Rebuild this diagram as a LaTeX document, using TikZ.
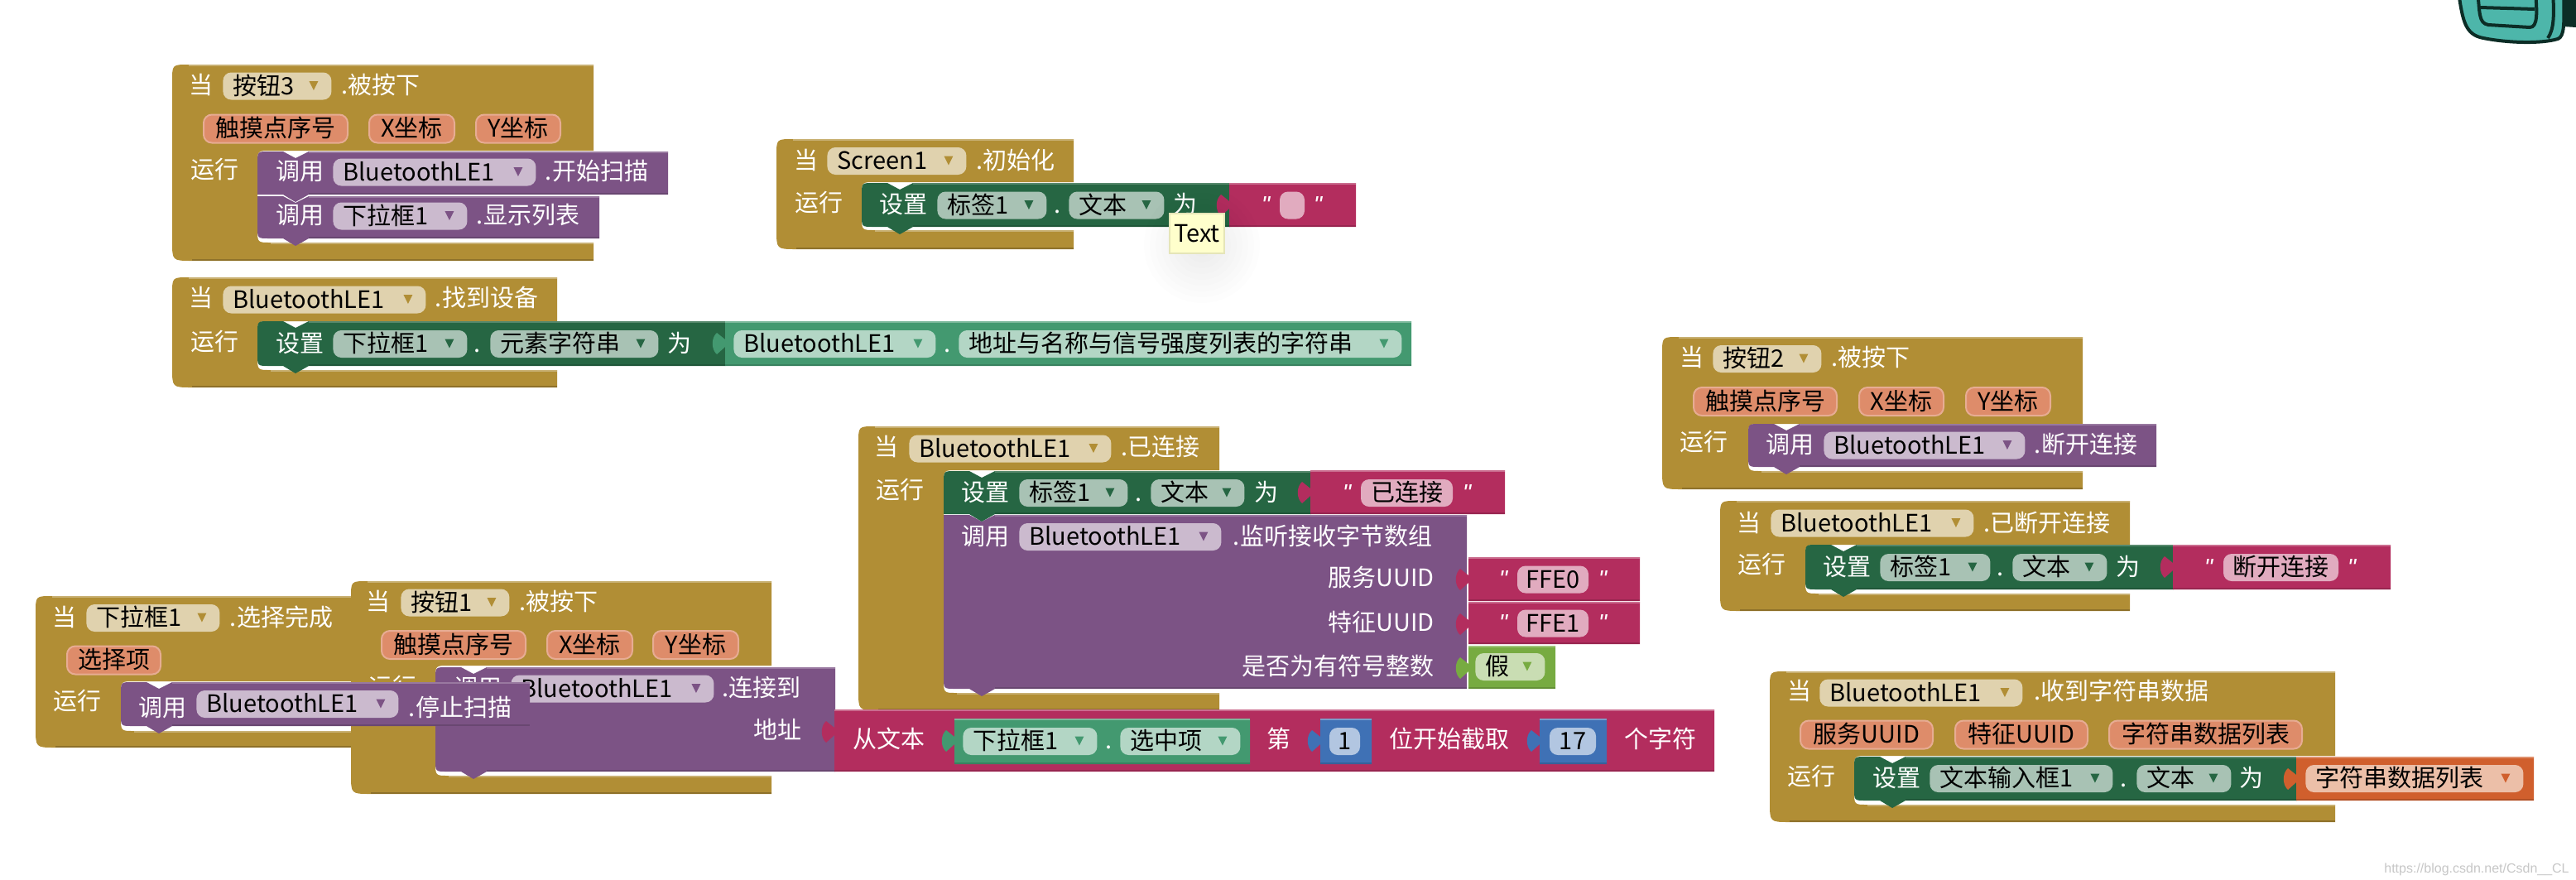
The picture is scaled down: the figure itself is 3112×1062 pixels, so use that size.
\documentclass[tikz,border=0pt]{standalone}
\usepackage{fontspec}
\usepackage{xcolor}
\usepackage{tikz}
\usetikzlibrary{calc}
\setmainfont{Noto Sans CJK SC}
\newfontfamily\quotefont{Liberation Sans}
\definecolor{hatgold}{RGB}{177, 142, 53}
\definecolor{hatsoft}{RGB}{224, 210, 174}
\definecolor{callpurple}{RGB}{124, 83, 133}
\definecolor{callsoft}{RGB}{203, 186, 206}
\definecolor{setgreen}{RGB}{38, 102, 67}
\definecolor{setsoft}{RGB}{168, 194, 180}
\definecolor{getteal}{RGB}{67, 153, 112}
\definecolor{getsoft}{RGB}{179, 214, 197}
\definecolor{textred}{RGB}{179, 45, 94}
\definecolor{textsoft}{RGB}{225, 171, 191}
\definecolor{numblue}{RGB}{63, 113, 181}
\definecolor{numsoft}{RGB}{178, 198, 225}
\definecolor{boolgreen}{RGB}{119, 171, 65}
\definecolor{boolsoft}{RGB}{201, 221, 179}
\definecolor{varorange}{RGB}{208, 95, 45}
\definecolor{varsoft}{RGB}{236, 191, 168}
\definecolor{paramfill}{RGB}{222, 140, 106}
\definecolor{paramedge}{RGB}{231, 172, 147}
\definecolor{tipyellow}{RGB}{255, 255, 204}
\definecolor{icondark}{RGB}{12, 45, 38}
\definecolor{iconteal}{RGB}{77, 182, 170}
\tikzset{
  every node/.style={
    font=\fontsize{14.5}{16}\selectfont,
    inner sep=0pt,
    text height=12pt,
    text depth=2pt
  },
  blocklabel/.style={
    text=white
  },
  dropchip/.style 2 args={
    fill=#1,
    rounded corners=5pt,
    minimum height=16.5pt,
    inner xsep=6pt,
    anchor=west,
    align=left,
    path picture={
      \fill[#2, sharp corners] ($(path picture bounding box.east)+(-27,-6)$) -- ++(11,0) -- ++(-5.5,11) -- cycle;
    }
  },
  hatdrop/.style={dropchip={hatsoft}{hatgold}},
  calldrop/.style={dropchip={callsoft}{callpurple}},
  setdrop/.style={dropchip={setsoft}{setgreen}},
  getdrop/.style={dropchip={getsoft}{getteal}},
  vardrop/.style={dropchip={varsoft}{varorange}},
  booldrop/.style={dropchip={boolsoft}{boolgreen}},
  paramchip/.style={
    fill=paramfill,
    draw=paramedge,
    line width=1pt,
    rounded corners=5pt,
    minimum height=17pt
  },
  valuechip/.style={
    fill=#1,
    rounded corners=5pt,
    minimum height=16.5pt
  },
  quotemark/.style={
    text=white,
    font=\quotefont\itshape\fontsize{14.5}{16}\selectfont
  }
}
\newcommand{\dropfield}[6]{
  \pgfmathsetmacro{\fieldwidth}{(#4-#3)*0.5-12}
  \node[#2, text width=\fieldwidth pt] (#1) at (#3,#5) {#6};
}
\newcommand{\eventblock}[7]{
  \fill[hatgold] (#3,#6) -- (#3,#2) -- (#1+20,#2) .. controls (#1,#2) .. (#1,#2+20) -- (#1,#4-24) .. controls (#1,#4) .. (#1+24,#4) -- (#3,#4) -- (#3,#7) -- (#5+16,#7) .. controls (#5,#7) .. (#5,#7-16) -- (#5,#6+16) .. controls (#5,#6) .. (#5+16,#6) -- cycle;
  \draw[hatgold!70!white, line width=1pt] (#1+20,#2+1) -- (#3,#2+1);
  \draw[hatgold!70!white, line width=1pt] (#5+16,#7+1) -- (#3,#7+1);
  \draw[hatgold!80!black, line width=1pt] (#1+24,#4-1) -- (#3,#4-1);
}
\newcommand{\stmtblock}[7]{
  \fill[#1] (#3,#4) -- (#2+62,#4) -- (#2+46,#4+8) -- (#2+31,#4) -- (#2+#6,#4) .. controls (#2,#4) .. (#2,#4+#6) -- (#2,#5-#7) .. controls (#2,#5) .. (#2+#7,#5) -- (#2+31,#5) -- (#2+46,#5+9) -- (#2+62,#5) -- (#3,#5) -- cycle;
  \draw[#1!78!white, line width=1pt] (#2+62,#4+1) -- (#3,#4+1);
  \draw[#1!85!black, line width=1pt] (#2+62,#5-1) -- (#3,#5-1);
}
\newcommand{\valueblock}[5]{
  \fill[#1] (#2,#4) -- (#2,#4+22) -- (#2-10,#4+14) .. controls (#2-17,#4+20) and (#2-17,#4+34) .. (#2-10,#4+40) -- (#2,#4+31) -- (#2,#5) -- (#3,#5) -- (#3,#4) -- cycle;
  \draw[#1!70!white, line width=1pt] (#2,#4+1) -- (#3,#4+1);
  \draw[#1!85!black, line width=1pt] (#2,#5-1) -- (#3,#5-1);
}
\begin{document}
\begin{tikzpicture}[x=0.5pt,y=-0.5pt]
  \path[use as bounding box, fill=white] (0,0) rectangle (3112,1062);

  \eventblock{208}{78}{717}{315}{311}{182}{293}
  \node[blocklabel] (awhen) at (243,103) {当};
  \dropfield{abtn}{hatdrop}{269}{400}{104}{按钮3}
  \node[blocklabel] (apress) at (460,103) {.被按下};
  \node[paramchip, minimum width=87pt] (atouch) at (333,155.5) {触摸点序号};
  \node[paramchip, minimum width=51.5pt] (ax) at (497.5,155.5) {X坐标};
  \node[paramchip, minimum width=51pt] (ay) at (626,155.5) {Y坐标};
  \node[blocklabel] (arun) at (259,205) {运行};
  \stmtblock{callpurple}{311}{724}{237}{288}{0}{14}
  \stmtblock{callpurple}{311}{807}{183}{235}{14}{0}
  \node[blocklabel] (acall) at (362,207) {调用};
  \dropfield{able}{calldrop}{402}{647}{208}{BluetoothLE1}
  \node[blocklabel] (ascan) at (721,207) {.开始扫描};
  \node[blocklabel] (acalltwo) at (362,260) {调用};
  \dropfield{alist}{calldrop}{402}{564}{261}{下拉框1}
  \node[blocklabel] (ashow) at (638,260) {.显示列表};

  \eventblock{208}{335}{673}{468}{311}{388}{447}
  \node[blocklabel] (bwhen) at (243,360) {当};
  \dropfield{bble}{hatdrop}{269}{514}{362}{BluetoothLE1}
  \node[blocklabel] (bfound) at (588,360) {.找到设备};
  \node[blocklabel] (brun) at (259,413) {运行};
  \stmtblock{setgreen}{311}{876}{388}{442}{14}{14}
  \node[blocklabel] (bset) at (362,415) {设置};
  \dropfield{blist}{setdrop}{402}{564}{415.5}{下拉框1}
  \node[blocklabel] (bdot) at (577,415) {.};
  \dropfield{bitems}{setdrop}{592}{795}{415.5}{元素字符串}
  \node[blocklabel] (bto) at (821,415) {为};
  \valueblock{getteal}{876}{1705}{388}{442}
  \dropfield{bgetble}{getdrop}{886}{1130}{415.5}{BluetoothLE1}
  \node[blocklabel] (bgetdot) at (1145,415) {.};
  \dropfield{bgetlist}{getdrop}{1158}{1693}{415.5}{地址与名称与信号强度列表的字符串}

  \eventblock{938}{168}{1297}{301}{1041}{220}{278}
  \node[blocklabel] (cwhen) at (974,194) {当};
  \dropfield{cscreen}{hatdrop}{999}{1167}{194.5}{Screen1}
  \node[blocklabel] (cinit) at (1227,194) {.初始化};
  \node[blocklabel] (crun) at (989,245) {运行};
  \stmtblock{setgreen}{1041}{1486}{221}{274}{14}{14}
  \node[blocklabel] (cset) at (1091,247) {设置};
  \dropfield{clabel}{setdrop}{1132}{1264}{248}{标签1}
  \node[blocklabel] (cdot) at (1278,247) {.};
  \dropfield{ctext}{setdrop}{1291}{1406}{248}{文本}
  \node[blocklabel] (cto) at (1432,247) {为};
  \valueblock{textred}{1485}{1638}{221}{274}
  \node[quotemark] (copen) at (1529,247) {"};
  \node[valuechip=textsoft, minimum width=15pt] (cempty) at (1561,248) {};
  \node[quotemark] (cclose) at (1592,247) {"};
  \foreach \r in {14,21,...,70}
    \fill[black, opacity=0.006] (1452,296) circle (\r);
  \node[fill=tipyellow, draw=black!10!tipyellow, line width=1pt, minimum width=33pt, minimum height=24pt] (ctip) at (1446,282) {Text};

  \eventblock{1037}{515}{1473}{858}{1140}{568}{837}
  \node[blocklabel] (dwhen) at (1071,540) {当};
  \dropfield{dble}{hatdrop}{1098}{1342}{542}{BluetoothLE1}
  \node[blocklabel] (dlinked) at (1402,540) {.已连接};
  \node[blocklabel] (drun) at (1087,592) {运行};
  \stmtblock{callpurple}{1140}{1772}{622}{832}{0}{14}
  \stmtblock{setgreen}{1140}{1584}{569}{621}{14}{0}
  \node[blocklabel] (dset) at (1190,595) {设置};
  \dropfield{dlabel}{setdrop}{1231}{1362}{595.5}{标签1}
  \node[blocklabel] (ddot) at (1376,595) {.};
  \dropfield{dtext}{setdrop}{1390}{1503}{595.5}{文本}
  \node[blocklabel] (dto) at (1530,595) {为};
  \valueblock{textred}{1583}{1818}{568}{621}
  \node[quotemark] (dopen) at (1627,595) {"};
  \node[valuechip=textsoft, minimum width=55.5pt] (dstate) at (1699.5,595.5) {已连接};
  \node[quotemark] (dclose) at (1772,595) {"};
  \node[blocklabel] (dcall) at (1190,648) {调用};
  \dropfield{dcallble}{calldrop}{1231}{1475}{648.5}{BluetoothLE1}
  \node[blocklabel] (dlisten) at (1610,648) {.监听接收字节数组};
  \node[blocklabel, anchor=east] (dservice) at (1733,698) {服务UUID};
  \valueblock{textred}{1774}{1981}{673}{726}
  \node[quotemark] (dsopen) at (1816,699) {"};
  \node[valuechip=textsoft, minimum width=43pt] (dsvalue) at (1876,700) {FFE0};
  \node[quotemark] (dsclose) at (1936,699) {"};
  \node[blocklabel, anchor=east] (dchar) at (1733,752) {特征UUID};
  \valueblock{textred}{1774}{1981}{727}{778}
  \node[quotemark] (dcopen) at (1816,752) {"};
  \node[valuechip=textsoft, minimum width=43pt] (dcvalue) at (1876,753) {FFE1};
  \node[quotemark] (dcclose) at (1936,752) {"};
  \node[blocklabel, anchor=east] (dsigned) at (1733,805) {是否为有符号整数};
  \valueblock{boolgreen}{1774}{1879}{780}{832}
  \dropfield{dfalse}{booldrop}{1782}{1866}{805.5}{假}

  \eventblock{43}{720}{440}{903}{146}{823}{883}
  \node[blocklabel] (ewhen) at (78,746) {当};
  \dropfield{elist}{hatdrop}{104}{265}{746.5}{下拉框1}
  \node[blocklabel] (edone) at (340,746) {.选择完成};
  \node[paramchip, minimum width=56.5pt] (eitem) at (137.5,797.5) {选择项};
  \node[blocklabel] (erun) at (93,847) {运行};

  \eventblock{424}{702}{932}{959}{526}{804}{937}
  \node[blocklabel] (fwhen) at (457,727) {当};
  \dropfield{fbtn}{hatdrop}{484}{615}{728}{按钮1}
  \node[blocklabel] (fpress) at (675,727) {.被按下};
  \node[paramchip, minimum width=87pt] (ftouch) at (548,779) {触摸点序号};
  \node[paramchip, minimum width=51.5pt] (fx) at (712.5,779) {X坐标};
  \node[paramchip, minimum width=51.5pt] (fy) at (840.5,779) {Y坐标};
  \node[blocklabel] (frun) at (474,830) {运行};
  \stmtblock{callpurple}{526}{1009}{806}{932}{14}{14}
  \node[blocklabel] (fcall) at (577,831) {调用};
  \dropfield{fble}{calldrop}{617}{862}{832}{BluetoothLE1}
  \node[blocklabel] (fconnect) at (920,831) {.连接到};
  \node[blocklabel, anchor=east] (faddress) at (969,882) {地址};

  \valueblock{textred}{1008}{2071}{857}{932}
  \node[blocklabel] (ffrom) at (1074,893) {从文本};
  \valueblock{getteal}{1153}{1510}{868}{923}
  \dropfield{fgetlist}{getdrop}{1163}{1325}{895.5}{下拉框1}
  \node[blocklabel] (fgetdot) at (1340,894) {.};
  \dropfield{fgetitem}{getdrop}{1353}{1498}{895.5}{选中项}
  \node[blocklabel] (fnth) at (1545,893) {第};
  \valueblock{numblue}{1595}{1657}{868}{923}
  \node[valuechip=numsoft, minimum width=18.5pt] (fstart) at (1624.5,895.5) {1};
  \node[blocklabel] (fbegin) at (1751,893) {位开始截取};
  \valueblock{numblue}{1860}{1941}{868}{923}
  \node[valuechip=numsoft, minimum width=28pt] (fcount) at (1900,895.5) {17};
  \node[blocklabel] (fchars) at (2006,893) {个字符};

  \stmtblock{callpurple}{146}{640}{824}{877}{14}{14}
  \node[blocklabel] (ecall) at (196,855) {调用};
  \dropfield{eble}{calldrop}{237}{481}{850.5}{BluetoothLE1}
  \node[blocklabel] (estop) at (556,855) {.停止扫描};

  \eventblock{2008}{407}{2516}{591}{2112}{512}{569}
  \node[blocklabel] (gwhen) at (2044,432) {当};
  \dropfield{gbtn}{hatdrop}{2069}{2200}{433.5}{按钮2}
  \node[blocklabel] (gpress) at (2260,432) {.被按下};
  \node[paramchip, minimum width=86.5pt] (gtouch) at (2132.5,485) {触摸点序号};
  \node[paramchip, minimum width=51pt] (gx) at (2297,485) {X坐标};
  \node[paramchip, minimum width=51pt] (gy) at (2426,485) {Y坐标};
  \node[blocklabel] (grun) at (2058,534) {运行};
  \stmtblock{callpurple}{2112}{2605}{512}{564}{14}{14}
  \node[blocklabel] (gcall) at (2162,537) {调用};
  \dropfield{gble}{calldrop}{2203}{2446}{538}{BluetoothLE1}
  \node[blocklabel] (gcut) at (2520,537) {.断开连接};

  \eventblock{2078}{605}{2573}{738}{2181}{658}{717}
  \node[blocklabel] (hwhen) at (2113,632) {当};
  \dropfield{hble}{hatdrop}{2139}{2384}{632}{BluetoothLE1}
  \node[blocklabel] (hlost) at (2473,632) {.已断开连接};
  \node[blocklabel] (hrun) at (2128,682) {运行};
  \stmtblock{setgreen}{2181}{2626}{658}{712}{14}{14}
  \node[blocklabel] (hset) at (2231,685) {设置};
  \dropfield{hlabel}{setdrop}{2271}{2404}{685.5}{标签1}
  \node[blocklabel] (hdot) at (2417,685) {.};
  \dropfield{htext}{setdrop}{2431}{2545}{685.5}{文本}
  \node[blocklabel] (hto) at (2571,685) {为};
  \valueblock{textred}{2625}{2888}{658}{712}
  \node[quotemark] (hopen) at (2668,685) {"};
  \node[valuechip=textsoft, minimum width=69.5pt] (hstate) at (2755.5,685.5) {断开连接};
  \node[quotemark] (hclose) at (2841,685) {"};

  \eventblock{2138}{811}{2821}{993}{2240}{913}{972}
  \node[blocklabel] (iwhen) at (2174,835) {当};
  \dropfield{ible}{hatdrop}{2198}{2443}{837}{BluetoothLE1}
  \node[blocklabel] (igot) at (2563,835) {.收到字符串数据};
  \node[paramchip, minimum width=80pt] (iservice) at (2255,887.5) {服务UUID};
  \node[paramchip, minimum width=80pt] (ichar) at (2442,887.5) {特征UUID};
  \node[paramchip, minimum width=116.5pt] (idata) at (2664.5,887.5) {字符串数据列表};
  \node[blocklabel] (irun) at (2188,938) {运行};
  \stmtblock{setgreen}{2240}{2775}{914}{967}{14}{14}
  \node[blocklabel] (iset) at (2291,940) {设置};
  \dropfield{iinput}{setdrop}{2331}{2552}{940.5}{文本输入框1}
  \node[blocklabel] (idot) at (2566,940) {.};
  \dropfield{itext}{setdrop}{2581}{2695}{940.5}{文本}
  \node[blocklabel] (ito) at (2720,940) {为};
  \valueblock{varorange}{2774}{3061}{914}{967}
  \dropfield{ivar}{vardrop}{2785}{3048}{940.5}{字符串数据列表}

  \fill[icondark] (3098,-4) -- (3112,-4) -- (3112,33) -- (3097,32) -- cycle;
  \filldraw[fill=iconteal, draw=icondark, line width=2pt] (2970,-10) .. controls (2975,25) and (2978,42) .. (3000,46) .. controls (3030,52) and (3070,53) .. (3090,47) .. controls (3098,44) and (3098,30) .. (3097,-10) -- cycle;
  \draw[icondark, line width=2pt] (3084,-10) .. controls (3086,20) and (3085,36) .. (3078,46);
  \draw[icondark, line width=2pt] (2993,-10) .. controls (2996,15) and (2994,28) .. (3006,30) -- (3056,33) .. controls (3066,33) and (3065,15) .. (3063,-10);
  \draw[icondark, line width=2pt] (2996,9) -- (3062,11);

  \node[text=black!22, font=\quotefont\fontsize{8}{10}\selectfont] (csdnmark) at (2992,1044) {https://blog.csdn.net/Csdn\_\_CL};
\end{tikzpicture}
\end{document}
